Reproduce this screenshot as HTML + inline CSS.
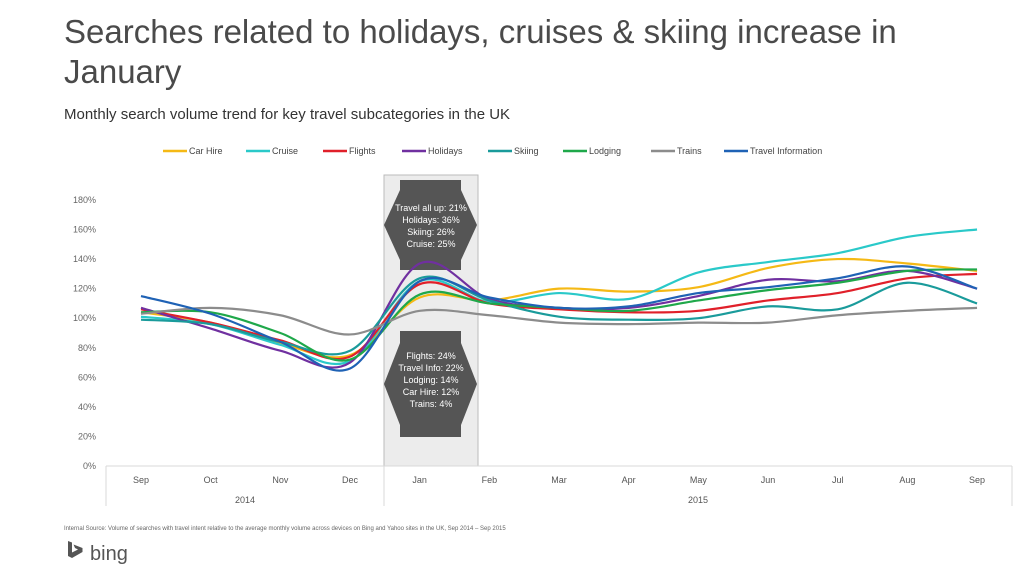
<!DOCTYPE html>
<html><head><meta charset="utf-8"><style>
body{margin:0;width:1024px;height:577px;background:#fff;overflow:hidden;font-family:"Liberation Sans",sans-serif}
.t{position:absolute;left:64px;top:12px;font-size:33px;color:#4a4a4a;line-height:40px;font-weight:300;width:900px}
.s{position:absolute;left:64px;top:106px;font-size:15px;color:#333}
svg{position:absolute;left:0;top:0}
</style></head><body>
<div class="t">Searches related to holidays, cruises &amp; skiing increase in January</div>
<div class="s">Monthly search volume trend for key travel subcategories in the UK</div>
<svg width="1024" height="577" id="c" font-family="Liberation Sans, sans-serif">
<rect x="384" y="175" width="94" height="291" fill="#ececec" stroke="#bbb"/>
<polygon points="400,180 461,180 461,190 477,225 461,260 461,270 400,270 400,260 384,225 400,190" fill="#555"/>
<polygon points="400,331 461,331 461,343 477,384 461,425 461,437 400,437 400,425 384,384 400,343" fill="#555"/>
<g fill="#fff" font-size="9" text-anchor="middle">
<text x="431" y="211">Travel all up: 21%</text><text x="431" y="223">Holidays: 36%</text><text x="431" y="235">Skiing: 26%</text><text x="431" y="247">Cruise: 25%</text></g>
<g fill="#fff" font-size="9" text-anchor="middle">
<text x="431" y="359">Flights: 24%</text><text x="431" y="371">Travel Info: 22%</text><text x="431" y="383">Lodging: 14%</text><text x="431" y="395">Car Hire: 12%</text><text x="431" y="407">Trains: 4%</text></g>
<g id="axes"></g><g id="lines"></g><g id="legend"></g>
<text x="64" y="530" font-size="6" fill="#666">Internal Source: Volume of searches with travel intent relative to the average monthly volume across devices on Bing and Yahoo sites in the UK, Sep 2014 – Sep 2015</text>
<path d="M68,541 l4,1.5 v10 l6,-3 -3,-1.5 -1.5,-3.5 9,3.5 v4 l-10.5,6 -4,-2z" fill="#555"/>
<text x="90" y="560" font-size="20" fill="#555">bing</text>
</svg>
<script>
const months=["Sep","Oct","Nov","Dec","Jan","Feb","Mar","Apr","May","Jun","Jul","Aug","Sep"];
const yTicks=[0,20,40,60,80,100,120,140,160,180];
const seriesNames=["Car Hire","Cruise","Flights","Holidays","Skiing","Lodging","Trains","Travel Information"];
const carHire=[104,97,83,75,114,112,120,118,121,134,140,137,132];
const cruise=[101,96,82,71,125,111,117,113,131,138,144,155,160];
const flights=[106,97,85,74,123,110,106,104,105,112,117,127,130];
const holidays=[107,93,78,70,137,113,107,107,115,126,125,132,120];
const skiing=[99,96,84,78,127,112,101,99,100,108,106,124,110];
const lodging=[104,104,90,72,116,110,107,105,112,119,124,132,133];
const trains=[103,107,102,89,105,102,97,96,97,97,102,105,107];
const travelInfo=[115,103,84,66,125,114,107,108,117,121,127,135,120];
const colors=["#f5b915","#2ac9c9","#e0202a","#7030a0","#1a9b9b","#1fa84a","#8c8c8c","#1f62b5"];
const allSeries=[carHire,cruise,flights,holidays,skiing,lodging,trains,travelInfo];
const NS="http://www.w3.org/2000/svg";
const xs=i=>141+i*69.67, ys=v=>466-v*1.478;
function mk(t,a,p){const e=document.createElementNS(NS,t);for(const k in a)e.setAttribute(k,a[k]);p.appendChild(e);return e;}
const ax=document.getElementById('axes');
yTicks.forEach(v=>{const t=mk('text',{x:96,y:ys(v)+3,'font-size':9,fill:'#666','text-anchor':'end'},ax);t.textContent=v+'%';

});
mk('line',{x1:106,x2:1012,y1:466,y2:466,stroke:'#d9d9d9'},ax);
[106,384,1012].forEach(x=>mk('line',{x1:x,x2:x,y1:466,y2:506,stroke:'#d9d9d9'},ax));
months.forEach((m,i)=>{const t=mk('text',{x:xs(i),y:483,'font-size':9,fill:'#555','text-anchor':'middle'},ax);t.textContent=m;

});
[["2014",245],["2015",698]].forEach(([y,x])=>{const t=mk('text',{x:x,y:503,'font-size':9,fill:'#555','text-anchor':'middle'},ax);t.textContent=y;

});
const lg=document.getElementById('lines');
allSeries.forEach((s,k)=>{const P=s.map((v,i)=>[xs(i),ys(v)]);let d='M'+P[0];
for(let i=0;i<P.length-1;i++){const p0=P[i-1]||P[i],p1=P[i],p2=P[i+1],p3=P[i+2]||p2;
d+=` C${p1[0]+(p2[0]-p0[0])/6},${p1[1]+(p2[1]-p0[1])/6} ${p2[0]-(p3[0]-p1[0])/6},${p2[1]-(p3[1]-p1[1])/6} ${p2[0]},${p2[1]}`;}
const e=mk('path',{d:d,fill:'none',stroke:colors[k],'stroke-width':2.2},lg);

});
const L=document.getElementById('legend');const lx=[163,246,323,402,488,563,651,724];
seriesNames.forEach((n,k)=>{const g=mk('g',{},L);


mk('line',{x1:lx[k],x2:lx[k]+24,y1:151,y2:151,stroke:colors[k],'stroke-width':2.5},g);
const t=mk('text',{x:lx[k]+26,y:154,'font-size':9,fill:'#444'},g);t.textContent=n;});
</script>
</body></html>
